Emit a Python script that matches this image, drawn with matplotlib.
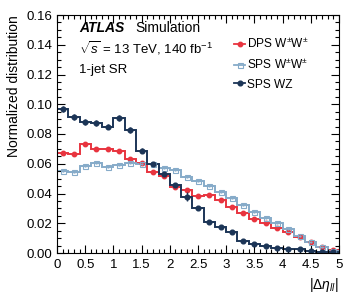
"""
Normalized |Delta eta_ll| distributions, 1-jet SR (ATLAS simulation style)
"""

import numpy as np
import matplotlib
matplotlib.use("Agg")
import matplotlib.pyplot as plt
from matplotlib.lines import Line2D
from matplotlib.ticker import MultipleLocator, FixedLocator

# ============================================================================
# DATA
# ============================================================================
bin_edges = np.round(np.arange(0.0, 5.0001, 0.2), 2)

dps_ww = [0.0674, 0.0663, 0.0733, 0.0697, 0.0697, 0.0688, 0.0630, 0.0607,
          0.0547, 0.0520, 0.0446, 0.0424, 0.0383, 0.0390, 0.0356, 0.0307,
          0.0267, 0.0226, 0.0200, 0.0166, 0.0139, 0.0110, 0.0076, 0.0042,
          0.0020]
dps_err = [0.0013, 0.0013, 0.0014, 0.0013, 0.0013, 0.0013, 0.0012, 0.0012,
           0.0011, 0.0011, 0.0010, 0.0010, 0.0009, 0.0009, 0.0009, 0.0008,
           0.0008, 0.0007, 0.0007, 0.0006, 0.0006, 0.0005, 0.0004, 0.0003,
           0.0002]

sps_ww = [0.0553, 0.0547, 0.0585, 0.0603, 0.0580, 0.0592, 0.0607, 0.0600,
          0.0595, 0.0574, 0.0558, 0.0513, 0.0484, 0.0450, 0.0412, 0.0368,
          0.0323, 0.0278, 0.0233, 0.0200, 0.0159, 0.0114, 0.0076, 0.0042,
          0.0015]
sps_ww_err = [0.0006] * 25

sps_wz = [0.0968, 0.0912, 0.0879, 0.0875, 0.0850, 0.0910, 0.0827, 0.0686,
          0.0598, 0.0530, 0.0457, 0.0379, 0.0300, 0.0210, 0.0177, 0.0143,
          0.0081, 0.0060, 0.0047, 0.0031, 0.0025, 0.0025, 0.0013, 0.0010,
          0.0005]
sps_wz_err = [0.0020, 0.0020, 0.0019, 0.0019, 0.0019, 0.0020, 0.0019, 0.0017,
              0.0016, 0.0015, 0.0014, 0.0030, 0.0012, 0.0010, 0.0009, 0.0008,
              0.0006, 0.0005, 0.0005, 0.0004, 0.0003, 0.0003, 0.0002, 0.0002,
              0.0001]

labels = [r"DPS W$^{\pm}$W$^{\pm}$", r"SPS W$^{\pm}$W$^{\pm}$", "SPS WZ"]
x_ticks = [0, 0.5, 1, 1.5, 2, 2.5, 3, 3.5, 4, 4.5, 5]
x_ticklabels = ["0", "0.5", "1", "1.5", "2", "2.5", "3", "3.5", "4", "4.5", "5"]

RED = "#e8343f"
LIGHT = "#86abc9"
NAVY = "#1c3557"

plt.rcParams['font.family'] = ['Liberation Sans', 'DejaVu Sans']
plt.rcParams['mathtext.fontset'] = 'custom'
plt.rcParams['mathtext.rm'] = 'Liberation Sans'
plt.rcParams['mathtext.it'] = 'Liberation Sans:italic'

fig = plt.figure(figsize=(3.57, 3.02), dpi=100)
ax = fig.add_axes([57 / 357, 1 - 253 / 302, (339 - 57) / 357, (253 - 15) / 302])

centers = 0.5 * (bin_edges[:-1] + bin_edges[1:])

series = [
    (dps_ww, dps_err, RED, dict(marker='o', ms=3.2, mfc=RED, mec=RED)),
    (sps_ww, sps_ww_err, LIGHT, dict(marker='s', ms=3.6, mfc='none', mec=LIGHT, mew=0.8)),
    (sps_wz, sps_wz_err, NAVY, dict(marker='o', ms=3.4, mfc=NAVY, mec=NAVY)),
]

handles = []
for vals, errs, col, mk in series:
    ax.stairs(vals, bin_edges, color=col, lw=1.4)
    ax.errorbar(centers, vals, yerr=errs, xerr=0.03, fmt='none', color=col,
                elinewidth=1.0, capsize=0)
    ax.plot(centers, vals, ls='none', **mk)
    handles.append(Line2D([], [], color=col, lw=1.3, **mk))

ax.set_xlim(0, 5)
ax.set_ylim(0, 0.16)
ax.xaxis.set_major_locator(FixedLocator(x_ticks))
ax.set_xticklabels(x_ticklabels)
ax.xaxis.set_minor_locator(MultipleLocator(0.1))
ax.yaxis.set_major_locator(MultipleLocator(0.02))
ax.yaxis.set_minor_locator(MultipleLocator(0.005))
ax.yaxis.set_major_formatter(plt.FormatStrFormatter('%.2f'))
ax.tick_params(which='both', direction='in', top=True, right=True, labelsize=9.5)
ax.tick_params(which='major', length=6, width=0.8)
ax.tick_params(which='minor', length=3, width=0.8)
ax.tick_params(axis='x', pad=4)

ax.set_ylabel("Normalized distribution", fontsize=10, loc='top')
ax.set_xlabel(r"$|\Delta\eta_{ll}|$", fontsize=10, loc='right')

ax.text(0.078, 0.93, "ATLAS", transform=ax.transAxes, fontsize=10,
        fontweight='bold', style='italic')
ax.text(0.277, 0.93, "Simulation", transform=ax.transAxes, fontsize=10)
ax.text(0.078, 0.84, r"$\sqrt{s}$ = 13 TeV, 140 fb$^{-1}$", transform=ax.transAxes, fontsize=9.5)
ax.text(0.078, 0.755, "1-jet SR", transform=ax.transAxes, fontsize=9.5)

leg = ax.legend(handles, labels, loc='upper left', bbox_to_anchor=(0.62, 0.92),
                frameon=False, fontsize=8.6, handlelength=0.9, handletextpad=0.15,
                labelspacing=0.55, borderaxespad=0.0, borderpad=0.2)

fig.savefig("out.png", dpi=100)
